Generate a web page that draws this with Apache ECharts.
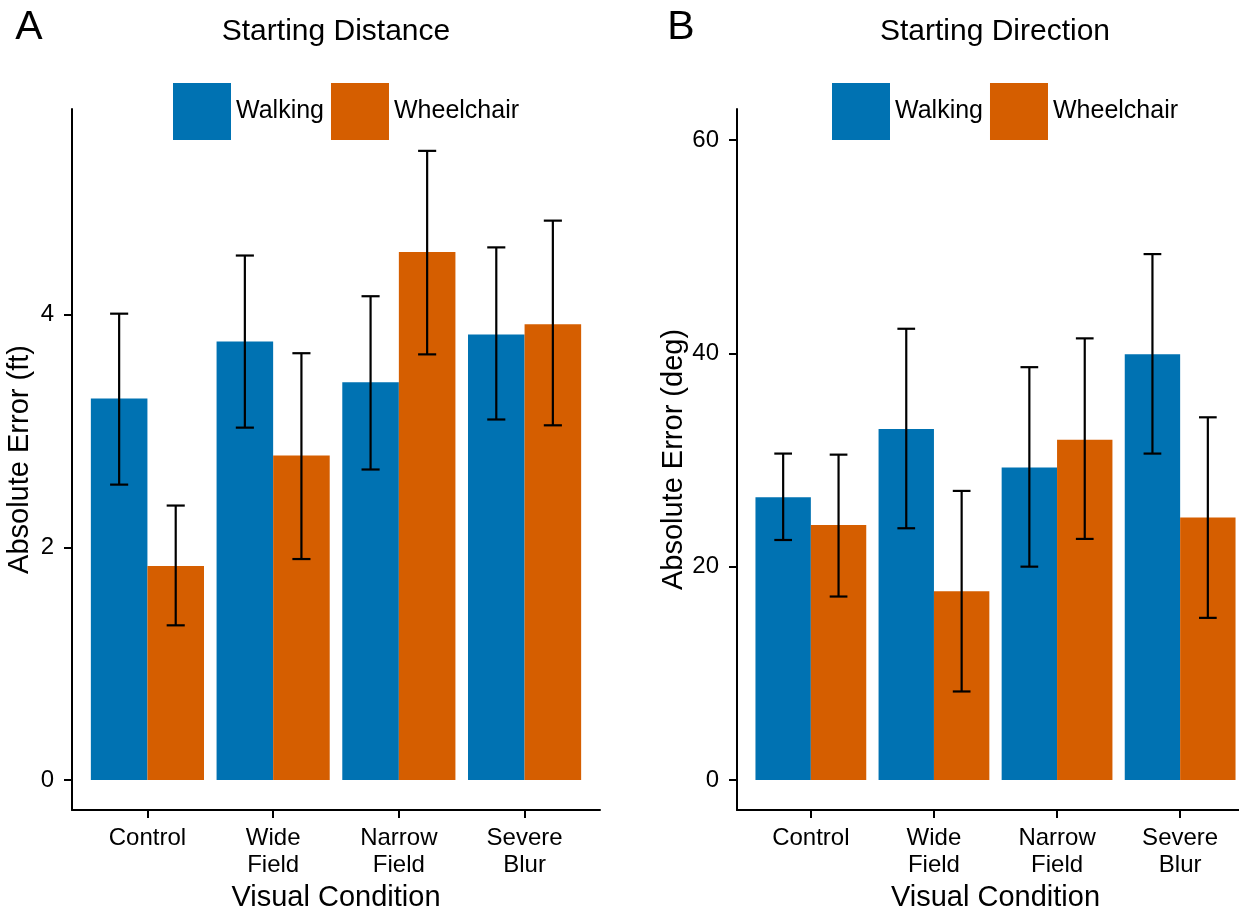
<!DOCTYPE html>
<html>
<head>
<meta charset="utf-8">
<script src="https://cdn.jsdelivr.net/npm/echarts@6/dist/echarts.min.js"></script>
<style>
html,body{margin:0;padding:0;background:#fff;}
#chart{width:1239px;height:907px;}
</style>
</head>
<body>
<div id="chart"></div>
<script>
const categories = ['Control', 'Wide\nField', 'Narrow\nField', 'Severe\nBlur'];
const categoryPos = [1, 2, 3, 4];
const groups = ['Walking', 'Wheelchair'];

const distWalk   = [3.28, 3.77, 3.42, 3.83];
const distWalkLo = [2.54, 3.03, 2.67, 3.10];
const distWalkHi = [4.01, 4.51, 4.16, 4.58];
const distWheel   = [1.84, 2.79, 4.54, 3.92];
const distWheelLo = [1.33, 1.90, 3.66, 3.05];
const distWheelHi = [2.36, 3.67, 5.41, 4.81];

const dirWalk   = [26.5, 32.9, 29.3, 39.9];
const dirWalkLo = [22.5, 23.6, 20.0, 30.6];
const dirWalkHi = [30.6, 42.3, 38.7, 49.3];
const dirWheel   = [23.9, 17.7, 31.9, 24.6];
const dirWheelLo = [17.2, 8.3, 22.6, 15.2];
const dirWheelHi = [30.5, 27.1, 41.4, 34.0];

const distTicks = [0, 2, 4];
const dirTicks = [0, 20, 40, 60];

const titles = ['Starting Distance', 'Starting Direction'];
const panelLabels = ['A', 'B'];
const xTitle = 'Visual Condition';
const yTitles = ['Absolute Error (ft)', 'Absolute Error (deg)'];

const BLUE = '#0072B2', ORANGE = '#D55E00';
const FONT = '"Liberation Sans", Arial, Helvetica, sans-serif';

const grids = [
  {left: 72, top: 109, width: 528, height: 701},
  {left: 737, top: 109, width: 517, height: 701}
];
const yRanges = [[-0.258, 5.77], [-2.81, 62.9]];
const yNameGaps = [38, 47];
const legendLefts = [173, 832];
const titleCenters = [336, 995];
const panelLabelX = [29, 681];

function pairs(vals) { return categoryPos.map((p, i) => [p, vals[i]]); }
function errPairs(lo, hi) { return categoryPos.map((p, i) => [p, lo[i], hi[i]]); }

function errRender(offset) {
  return function (params, api) {
    const x = api.value(0) + offset;
    const lo = api.coord([x, api.value(1)]);
    const hi = api.coord([x, api.value(2)]);
    const c1 = api.coord([x - 0.072, api.value(1)]);
    const c2 = api.coord([x + 0.072, api.value(1)]);
    const style = {stroke: '#000', lineWidth: 2.2};
    return {
      type: 'group',
      children: [
        {type: 'line', shape: {x1: lo[0], y1: lo[1], x2: hi[0], y2: hi[1]}, style: style},
        {type: 'line', shape: {x1: c1[0], y1: lo[1], x2: c2[0], y2: lo[1]}, style: style},
        {type: 'line', shape: {x1: c1[0], y1: hi[1], x2: c2[0], y2: hi[1]}, style: style}
      ]
    };
  };
}

const panels = [
  {walk: distWalk, wheel: distWheel, wLo: distWalkLo, wHi: distWalkHi, hLo: distWheelLo, hHi: distWheelHi, ticks: distTicks},
  {walk: dirWalk, wheel: dirWheel, wLo: dirWalkLo, wHi: dirWalkHi, hLo: dirWheelLo, hHi: dirWheelHi, ticks: dirTicks}
];

const option = {
  backgroundColor: '#fff',
  animation: false,
  textStyle: {fontFamily: FONT},
  title: [],
  legend: [],
  grid: [],
  xAxis: [],
  yAxis: [],
  series: []
};

panels.forEach((p, k) => {
  const g = grids[k];
  option.grid.push(Object.assign({containLabel: false, outerBoundsMode: 'none'}, g));
  option.title.push({
    text: titles[k], left: titleCenters[k], top: 17, textAlign: 'center', padding: 0,
    textStyle: {fontFamily: FONT, fontSize: 30, fontWeight: 'normal', color: '#000'}
  });
  option.title.push({
    text: panelLabels[k], left: panelLabelX[k], top: 7, textAlign: 'center', padding: 0,
    textStyle: {fontFamily: FONT, fontSize: 41, fontWeight: 'normal', color: '#000'}
  });
  option.legend.push({
    data: groups, left: legendLefts[k], top: 83, orient: 'horizontal', padding: 0,
    icon: 'rect', itemWidth: 58, itemHeight: 57, itemGap: 7,
    selectedMode: false,
    textStyle: {fontFamily: FONT, fontSize: 25, color: '#000', padding: [4, 0, 0, 0]}
  });
  option.xAxis.push({
    type: 'value', gridIndex: k, min: 0.4, max: 4.6,
    name: xTitle, nameLocation: 'middle', nameGap: 64,
    nameTextStyle: {fontFamily: FONT, fontSize: 29, color: '#000'},
    axisLine: {show: true, onZero: false, lineStyle: {color: '#000', width: 2}},
    axisTick: {show: true, length: 8, lineStyle: {color: '#000', width: 2}, customValues: categoryPos},
    axisLabel: {
      customValues: categoryPos, margin: 15, color: '#000', fontFamily: FONT, fontSize: 24, lineHeight: 27,
      formatter: function (v) { const i = Math.round(v) - 1; return categories[i] || ''; }
    },
    splitLine: {show: false}
  });
  option.yAxis.push({
    type: 'value', gridIndex: k, min: yRanges[k][0], max: yRanges[k][1],
    name: yTitles[k], nameLocation: 'middle', nameGap: yNameGaps[k], nameRotate: 90,
    nameTextStyle: {fontFamily: FONT, fontSize: 29, color: '#000'},
    axisLine: {show: true, onZero: false, lineStyle: {color: '#000', width: 2}},
    axisTick: {show: true, length: 8, lineStyle: {color: '#000', width: 2}, customValues: p.ticks},
    axisLabel: {customValues: p.ticks, margin: 18, color: '#000', fontFamily: FONT, fontSize: 24},
    splitLine: {show: false}
  });
  const bw = g.width / 4.2 * 0.45;
  option.series.push({
    name: groups[0], type: 'bar', xAxisIndex: k, yAxisIndex: k,
    data: pairs(p.walk), barWidth: bw, barGap: '0%',
    itemStyle: {color: BLUE}
  });
  option.series.push({
    name: groups[1], type: 'bar', xAxisIndex: k, yAxisIndex: k,
    data: pairs(p.wheel), barWidth: bw, barGap: '0%',
    itemStyle: {color: ORANGE}
  });
  option.series.push({
    name: 'err-walk-' + k, type: 'custom', xAxisIndex: k, yAxisIndex: k, z: 5,
    data: errPairs(p.wLo, p.wHi), encode: {x: 0, y: [1, 2]},
    renderItem: errRender(-0.225)
  });
  option.series.push({
    name: 'err-wheel-' + k, type: 'custom', xAxisIndex: k, yAxisIndex: k, z: 5,
    data: errPairs(p.hLo, p.hHi), encode: {x: 0, y: [1, 2]},
    renderItem: errRender(0.225)
  });
});

const chart = echarts.init(document.getElementById('chart'), null, {renderer: 'canvas'});
chart.setOption(option);
</script>
</body>
</html>
